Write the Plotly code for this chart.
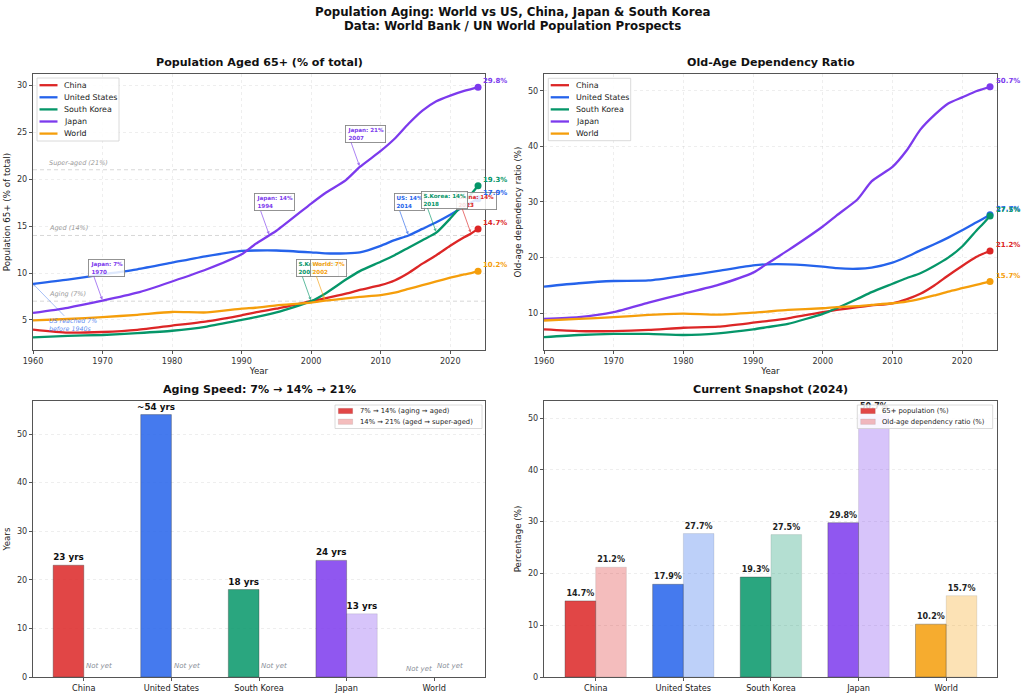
import plotly.graph_objects as go

W, H = 1024, 697
FONT = "DejaVu Sans"

# ---------------- data ----------------
countries = ["China", "United States", "South Korea", "Japan", "World"]
short_names = ["China", "US", "S.Korea", "Japan", "World"]
colors = ["#dc2626", "#2563eb", "#059669", "#7c3aed", "#f59e0b"]

years = [1960, 1965, 1970, 1975, 1980, 1985, 1990, 1992, 1995, 2000, 2002,
         2005, 2007, 2010, 2012, 2014, 2016, 2018, 2020, 2022, 2023, 2024]

# Population aged 65+ (% of total)
pop65_china = [3.97, 3.65, 3.72, 3.94, 4.4, 4.86, 5.5, 5.8, 6.2, 7.0, 7.3,
               7.8, 8.2, 8.7, 9.2, 10.0, 11.0, 11.9, 12.9, 13.8, 14.2, 14.7]
pop65_us = [8.85, 9.3, 9.85, 10.4, 11.1, 11.8, 12.35, 12.4, 12.4, 12.2, 12.1,
            12.1, 12.2, 12.9, 13.5, 14.0, 14.7, 15.4, 16.2, 17.1, 17.5, 17.9]
pop65_korea = [3.15, 3.3, 3.4, 3.6, 3.85, 4.3, 5.0, 5.3, 5.8, 7.0, 7.8,
               9.3, 10.2, 11.2, 11.9, 12.7, 13.5, 14.3, 15.8, 17.5, 18.4, 19.3]
pop65_japan = [5.75, 6.3, 7.05, 7.9, 9.1, 10.4, 12.0, 13.1, 14.5, 17.4, 18.5,
               19.9, 21.3, 23.0, 24.3, 25.9, 27.3, 28.3, 28.9, 29.4, 29.6, 29.8]
pop65_world = [4.95, 5.1, 5.3, 5.55, 5.85, 5.8, 6.2, 6.3, 6.55, 6.85, 7.05,
               7.3, 7.45, 7.65, 7.9, 8.3, 8.7, 9.1, 9.5, 9.85, 10.0, 10.2]
pop65 = [pop65_china, pop65_us, pop65_korea, pop65_japan, pop65_world]

# Old-age dependency ratio (%)
dep_china = [7.1, 6.8, 6.8, 7.0, 7.4, 7.6, 8.3, 8.6, 9.1, 10.2, 10.6,
             11.1, 11.4, 11.8, 12.5, 13.5, 15.0, 16.8, 18.5, 20.1, 20.7, 21.2]
dep_us = [14.8, 15.4, 15.8, 15.9, 16.7, 17.6, 18.6, 18.8, 18.8, 18.4, 18.1,
          18.0, 18.2, 19.1, 20.1, 21.3, 22.4, 23.6, 24.9, 26.3, 27.0, 27.7]
dep_korea = [5.7, 6.1, 6.3, 6.3, 6.1, 6.4, 7.1, 7.5, 8.1, 9.9, 10.9,
             12.6, 13.8, 15.3, 16.3, 17.2, 18.5, 20.0, 22.0, 24.8, 26.1, 27.5]
dep_japan = [9.0, 9.3, 10.2, 11.9, 13.5, 15.1, 17.3, 18.9, 21.3, 25.6, 27.6,
             30.5, 33.7, 36.3, 39.2, 43.0, 45.6, 47.7, 48.8, 49.9, 50.3, 50.7]
dep_world = [8.7, 9.0, 9.3, 9.7, 9.95, 9.75, 10.1, 10.3, 10.6, 10.9, 11.1,
             11.3, 11.5, 11.8, 12.1, 12.6, 13.2, 13.9, 14.5, 15.1, 15.4, 15.7]
dep = [dep_china, dep_us, dep_korea, dep_japan, dep_world]

thresholds = [7, 14, 21]
threshold_labels = ["Aging (7%)", "Aged (14%)", "Super-aged (21%)"]

# milestones: (country index, threshold, year reached, value at that year)
milestone_country = [0, 1, 2, 2, 3, 3, 3, 4]
milestone_threshold = [14, 14, 7, 14, 7, 14, 21, 7]
milestone_year = [2023, 2014, 2000, 2018, 1970, 1994, 2007, 2002]
milestone_value = [14.2, 14.0, 7.0, 14.3, 7.05, 14.0, 21.3, 7.05]

# aging speed (years)
speed_7_14 = [23, 54, 18, 24, None]
speed_14_21 = [None, None, None, 13, None]
speed_7_14_labels = ["23 yrs", "~54 yrs", "18 yrs", "24 yrs", ""]
speed_14_21_labels = ["", "", "", "13 yrs", ""]

# 2024 snapshot
snap_pop65 = [14.7, 17.9, 19.3, 29.8, 10.2]
snap_dep = [21.2, 27.7, 27.5, 50.7, 15.7]


# ---------------- helpers ----------------
def hex_rgba(h, a):
    h = h.lstrip("#")
    r, g, b = int(h[0:2], 16), int(h[2:4], 16), int(h[4:6], 16)
    return f"rgba({r},{g},{b},{a})"


def px(x):
    return x / W


def py(y):
    return 1 - y / H


fig = go.Figure()

# ---------------- top-left: 65+ % ----------------
for i, c in enumerate(countries):
    fig.add_trace(go.Scatter(x=years, y=pop65[i], mode="lines", name=c,
                             line=dict(color=colors[i], width=2.3, shape="spline", smoothing=0.6),
                             xaxis="x", yaxis="y", showlegend=False, cliponaxis=False))
for i, c in enumerate(countries):
    fig.add_trace(go.Scatter(x=[years[-1]], y=[pop65[i][-1]], mode="markers",
                             marker=dict(color=colors[i], size=7),
                             xaxis="x", yaxis="y", showlegend=False, cliponaxis=False))

# ---------------- top-right: dependency ratio ----------------
for i, c in enumerate(countries):
    fig.add_trace(go.Scatter(x=years, y=dep[i], mode="lines", name=c,
                             line=dict(color=colors[i], width=2.3, shape="spline", smoothing=0.6),
                             xaxis="x2", yaxis="y2", showlegend=False, cliponaxis=False))
for i, c in enumerate(countries):
    fig.add_trace(go.Scatter(x=[years[-1]], y=[dep[i][-1]], mode="markers",
                             marker=dict(color=colors[i], size=7),
                             xaxis="x2", yaxis="y2", showlegend=False, cliponaxis=False))

# ---------------- bottom-left: aging speed ----------------
edge_dark = "rgba(60,60,60,0.45)"
edge_light = "rgba(60,60,60,0.15)"
fig.add_trace(go.Bar(x=countries, y=speed_7_14, name="7% → 14% (aging → aged)",
                     marker=dict(color=[hex_rgba(c, 0.85) for c in colors],
                                 line=dict(color=edge_dark, width=0.8)),
                     text=[f"<b>{t}</b>" for t in speed_7_14_labels], textposition="outside",
                     textangle=0, constraintext="none", cliponaxis=False,
                     outsidetextfont=dict(family=FONT, size=8.8, color="#111"),
                     xaxis="x3", yaxis="y3", showlegend=False))
fig.add_trace(go.Bar(x=countries, y=speed_14_21, name="14% → 21% (aged → super-aged)",
                     marker=dict(color=[hex_rgba(c, 0.3) for c in colors],
                                 line=dict(color=edge_light, width=0.8)),
                     text=[f"<b>{t}</b>" for t in speed_14_21_labels], textposition="outside",
                     textangle=0, constraintext="none", cliponaxis=False,
                     outsidetextfont=dict(family=FONT, size=8.8, color="#111"),
                     xaxis="x3", yaxis="y3", showlegend=False))

# ---------------- bottom-right: snapshot ----------------
fig.add_trace(go.Bar(x=countries, y=snap_pop65, name="65+ population (%)",
                     marker=dict(color=[hex_rgba(c, 0.85) for c in colors],
                                 line=dict(color=edge_dark, width=0.8)),
                     text=[f"<b>{v:.1f}%</b>" for v in snap_pop65], textposition="outside",
                     textangle=0, constraintext="none", cliponaxis=False,
                     outsidetextfont=dict(family=FONT, size=8, color="#222"),
                     xaxis="x4", yaxis="y4", showlegend=False))
fig.add_trace(go.Bar(x=countries, y=snap_dep, name="Old-age dependency ratio (%)",
                     marker=dict(color=[hex_rgba(c, 0.3) for c in colors],
                                 line=dict(color=edge_light, width=0.8)),
                     text=[f"<b>{v:.1f}%</b>" for v in snap_dep], textposition="outside",
                     textangle=0, constraintext="none", cliponaxis=False,
                     outsidetextfont=dict(family=FONT, size=8, color="#222"),
                     xaxis="x4", yaxis="y4", showlegend=False))

# ---------------- axes ----------------
spine = "#555555"
tickfont = dict(family=FONT, size=8.1, color="#333")
titlefont = dict(family=FONT, size=8.7, color="#222")
grid = "rgba(176,176,176,0.22)"
gdash = "3px,3px"

dom_l = [px(33), px(485)]
dom_r = [px(544), px(997)]
dom_t = [py(350), py(74)]
dom_b = [py(677), py(401)]

common = dict(showline=True, linecolor=spine, linewidth=1.2, mirror=True,
              ticks="outside", ticklen=3, tickcolor=spine, tickwidth=1,
              tickfont=tickfont, zeroline=False, automargin=False)

fig.update_layout(
    xaxis=dict(domain=dom_l, anchor="y", range=[1960, 2025], dtick=10, tick0=1960,
               showgrid=True, gridcolor=grid, griddash=gdash, gridwidth=0.8,
               title=dict(text="Year", font=titlefont, standoff=3), **common),
    yaxis=dict(domain=dom_t, anchor="x", range=[1.8, 31.2], dtick=5, tick0=0,
               showgrid=True, gridcolor=grid, griddash=gdash, gridwidth=0.8,
               title=dict(text="Population 65+ (% of total)", font=titlefont, standoff=4), **common),
    xaxis2=dict(domain=dom_r, anchor="y2", range=[1960, 2025], dtick=10, tick0=1960,
                showgrid=True, gridcolor=grid, griddash=gdash, gridwidth=0.8,
                title=dict(text="Year", font=titlefont, standoff=3), **common),
    yaxis2=dict(domain=dom_t, anchor="x2", range=[3.4, 53.0], dtick=10, tick0=0,
                showgrid=True, gridcolor=grid, griddash=gdash, gridwidth=0.8,
                title=dict(text="Old-age dependency ratio (%)", font=titlefont, standoff=4), **common),
    xaxis3=dict(domain=dom_l, anchor="y3", type="category", range=[-0.58, 4.58],
                showgrid=False, tickfont=dict(family=FONT, size=8.2, color="#222"),
                **{k: v for k, v in common.items() if k != "tickfont"}),
    yaxis3=dict(domain=dom_b, anchor="x3", range=[0, 56.8], dtick=10,
                showgrid=True, gridcolor=grid, griddash=gdash, gridwidth=0.8,
                title=dict(text="Years", font=titlefont, standoff=4), **common),
    xaxis4=dict(domain=dom_r, anchor="y4", type="category", range=[-0.59, 4.58],
                showgrid=False, tickfont=dict(family=FONT, size=8.2, color="#222"),
                **{k: v for k, v in common.items() if k != "tickfont"}),
    yaxis4=dict(domain=dom_b, anchor="x4", range=[0, 53.3], dtick=10,
                showgrid=True, gridcolor=grid, griddash=gdash, gridwidth=0.8,
                title=dict(text="Percentage (%)", font=titlefont, standoff=4), **common),
    barmode="group", bargap=0.3, bargroupgap=0,
    width=W, height=H, margin=dict(l=0, r=0, t=0, b=0),
    paper_bgcolor="white", plot_bgcolor="white",
    font=dict(family=FONT), showlegend=False,
)

annotations = []
shapes = []

# titles
annotations.append(dict(xref="paper", yref="paper", x=0.5, y=py(12), xanchor="center", yanchor="middle",
                        text="<b>Population Aging: World vs US, China, Japan & South Korea</b>",
                        showarrow=False, font=dict(family=FONT, size=11.8, color="#111")))
annotations.append(dict(xref="paper", yref="paper", x=0.5, y=py(26.5), xanchor="center", yanchor="middle",
                        text="<b>Data: World Bank / UN World Population Prospects</b>",
                        showarrow=False, font=dict(family=FONT, size=11.8, color="#111")))
for xc, yc, t in [((33 + 485) / 2, 63, "Population Aged 65+ (% of total)"),
                  ((544 + 997) / 2, 63, "Old-Age Dependency Ratio"),
                  ((33 + 485) / 2, 389.5, "Aging Speed: 7% → 14% → 21%"),
                  ((544 + 997) / 2, 389.5, "Current Snapshot (2024)")]:
    annotations.append(dict(xref="paper", yref="paper", x=px(xc), y=py(yc), xanchor="center",
                            yanchor="middle", text=f"<b>{t}</b>", showarrow=False,
                            font=dict(family=FONT, size=11.1, color="#111")))

# thresholds
for thr, lab in zip(thresholds, threshold_labels):
    shapes.append(dict(type="line", xref="x domain", yref="y", x0=0, x1=1, y0=thr, y1=thr,
                       line=dict(color="rgba(128,128,128,0.4)", width=0.8, dash="4px,3px"), layer="below"))
    annotations.append(dict(xref="x", yref="y", x=1962, y=thr, xanchor="left", yanchor="bottom",
                            yshift=1, text=f"<i>{lab}</i>", showarrow=False,
                            font=dict(family=FONT, size=6.5, color="#999")))

# milestone callouts
for ci, thr, yr, val in zip(milestone_country, milestone_threshold, milestone_year, milestone_value):
    col = colors[ci]
    annotations.append(dict(xref="x", yref="y", x=yr, y=val, ax=-15, ay=-42,
                            xanchor="left", yanchor="top", align="left",
                            text=f"<b>{short_names[ci]}: {thr}%<br>{yr}</b>",
                            showarrow=True, arrowhead=2, arrowsize=0.7, arrowwidth=0.9,
                            arrowcolor=hex_rgba(col, 0.7), standoff=1,
                            bgcolor="rgba(255,255,255,0.85)", bordercolor="#888", borderwidth=0.9,
                            borderpad=1.5, font=dict(family=FONT, size=5.6, color=col)))

# US note
annotations.append(dict(xref="x", yref="y", x=1960, y=pop65_us[0], ax=40, ay=41,
                        text="<i>US reached 7%<br>before 1940s</i>", align="left",
                        showarrow=True, arrowhead=2, arrowsize=0.7, arrowwidth=0.8,
                        arrowcolor="rgba(37,99,235,0.5)",
                        font=dict(family=FONT, size=6.3, color="rgba(37,99,235,0.75)")))

# end labels
for i in range(len(countries)):
    annotations.append(dict(xref="x", yref="y", x=years[-1], y=pop65[i][-1], xanchor="left",
                            yanchor="middle", xshift=3, yshift=6, showarrow=False,
                            text=f"<b>{pop65[i][-1]:.1f}%</b>",
                            font=dict(family=FONT, size=7, color=colors[i])))
    annotations.append(dict(xref="x2", yref="y2", x=years[-1], y=dep[i][-1], xanchor="left",
                            yanchor="middle", xshift=4, yshift=6, showarrow=False,
                            text=f"<b>{dep[i][-1]:.1f}%</b>",
                            font=dict(family=FONT, size=7, color=colors[i])))

# "Not yet" labels
for i, (a, b) in enumerate(zip(speed_7_14, speed_14_21)):
    if a is None:
        annotations.append(dict(xref="x3", yref="y3", x=i - 0.175, y=0.4, xanchor="center",
                                yanchor="bottom", showarrow=False, text="<i>Not yet</i>",
                                font=dict(family=FONT, size=7, color="#8a8f99")))
    if b is None:
        annotations.append(dict(xref="x3", yref="y3", x=i + 0.175, y=1.0, xanchor="center",
                                yanchor="bottom", showarrow=False, text="<i>Not yet</i>",
                                font=dict(family=FONT, size=7, color="#8a8f99")))


# manual legends (matplotlib-like compact boxes)
def line_legend(x0, y0, x1, y1, sw0, sw1, tx, row0, step):
    shapes.append(dict(type="rect", xref="paper", yref="paper", x0=px(x0), x1=px(x1),
                       y0=py(y1), y1=py(y0), fillcolor="rgba(255,255,255,0.85)",
                       line=dict(color="#d0d0d0", width=0.8), layer="above"))
    for i, c in enumerate(countries):
        yy = row0 + step * i
        shapes.append(dict(type="line", xref="paper", yref="paper", x0=px(sw0), x1=px(sw1),
                           y0=py(yy), y1=py(yy), line=dict(color=colors[i], width=2.3), layer="above"))
        annotations.append(dict(xref="paper", yref="paper", x=px(tx), y=py(yy), xanchor="left",
                                yanchor="middle", showarrow=False, text=c,
                                font=dict(family=FONT, size=7.9, color="#222")))


def bar_legend(x0, y0, x1, y1, sw0, sw1, tx, rows, labels):
    shapes.append(dict(type="rect", xref="paper", yref="paper", x0=px(x0), x1=px(x1),
                       y0=py(y1), y1=py(y0), fillcolor="rgba(255,255,255,0.85)",
                       line=dict(color="#d0d0d0", width=0.8), layer="above"))
    for yy, lab, alpha in zip(rows, labels, [0.85, 0.3]):
        shapes.append(dict(type="rect", xref="paper", yref="paper", x0=px(sw0), x1=px(sw1),
                           y0=py(yy + 2.7), y1=py(yy - 2.7), fillcolor=hex_rgba(colors[0], alpha),
                           line=dict(color="rgba(60,60,60,0.2)", width=0.5), layer="above"))
        annotations.append(dict(xref="paper", yref="paper", x=px(tx), y=py(yy), xanchor="left",
                                yanchor="middle", showarrow=False, text=lab,
                                font=dict(family=FONT, size=6.8, color="#222")))


line_legend(37, 78, 119, 141, 39.5, 57.5, 62, 85.2, 12.1)
line_legend(548.3, 78.3, 630.7, 140.7, 550.7, 569, 573.5, 85.2, 12.1)
bar_legend(335, 405, 482, 428.5, 338.3, 352.7, 357.5, [411, 421.7],
           ["7% → 14% (aging → aged)", "14% → 21% (aged → super-aged)"])
bar_legend(857.3, 405, 992.7, 428.5, 860.7, 875.3, 880, [411, 421.7],
           ["65+ population (%)", "Old-age dependency ratio (%)"])

fig.update_layout(annotations=annotations, shapes=shapes)
fig.write_html("out.html")
